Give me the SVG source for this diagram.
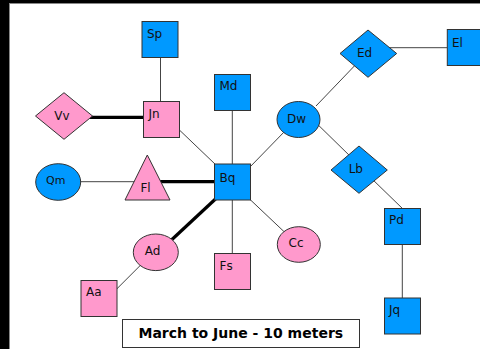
<svg xmlns="http://www.w3.org/2000/svg" width="480" height="349" viewBox="0 0 480 349">
<style>
.bl{fill:#0099ff;stroke:#333;stroke-width:1}
.pk{fill:#ff99cc;stroke:#333;stroke-width:1}
.ln{stroke:#444;stroke-width:1;fill:none}
.th{stroke:#000;stroke-width:3.2;fill:none}
text{font-family:"DejaVu Sans",Verdana,sans-serif;font-size:12px;fill:#111}
.c{text-anchor:middle}
.cap{font-weight:bold;font-size:14px;fill:#000}
</style>
<rect x="0" y="0" width="480" height="349" fill="#000"/>
<rect x="9.5" y="3.5" width="472" height="347" fill="#fff" stroke="#888"/>
<g id="connectors">
<line class="ln" x1="160.5" y1="57" x2="160.5" y2="101"/>
<line class="th" x1="90" y1="117.3" x2="143" y2="117.3"/>
<line class="ln" x1="80" y1="181.7" x2="138" y2="181.7"/>
<line class="th" x1="160" y1="181.7" x2="214" y2="181.7"/>
<line class="ln" x1="170" y1="121" x2="216" y2="165"/>
<line class="ln" x1="232.3" y1="110" x2="232.3" y2="164"/>
<line class="ln" x1="232.3" y1="200" x2="232.3" y2="253"/>
<line class="ln" x1="249" y1="168" x2="286" y2="130"/>
<line class="ln" x1="249" y1="198.5" x2="286" y2="233.5"/>
<line class="th" x1="216" y1="198.5" x2="165" y2="246"/>
<line class="ln" x1="112" y1="293.7" x2="145" y2="260.7"/>
<line class="ln" x1="316" y1="106" x2="362" y2="58"/>
<line class="ln" x1="316" y1="122.8" x2="352" y2="158"/>
<line class="ln" x1="388" y1="47.7" x2="447" y2="47.7"/>
<line class="ln" x1="370" y1="177" x2="404" y2="210"/>
<line class="ln" x1="402.3" y1="244" x2="402.3" y2="298"/>
</g>
<g id="Sp"><rect class="bl" x="142" y="21.5" width="36" height="36"/><text x="147" y="37.5">Sp</text></g>
<g id="Md"><rect class="bl" x="214.5" y="74.5" width="36" height="36"/><text x="219.5" y="89.5">Md</text></g>
<g id="Jn"><rect class="pk" x="143.5" y="101.5" width="36" height="36"/><text x="148.5" y="117.5">Jn</text></g>
<g id="Vv"><polygon class="pk" points="64,92.7 92.5,116 64,139.3 35.5,116"/><text class="c" x="62" y="120">Vv</text></g>
<g id="Qm"><ellipse class="bl" cx="58.2" cy="182" rx="22.5" ry="18.3"/><text class="c" x="55.7" y="183.5" style="font-size:11px">Qm</text></g>
<g id="Fl"><polygon class="pk" points="147.3,155 170,200 125,200"/><text class="c" x="145.5" y="191.7">Fl</text></g>
<g id="Bq"><rect class="bl" x="214.5" y="164" width="36" height="36"/><text x="219.5" y="181.7">Bq</text></g>
<g id="Dw"><ellipse class="bl" cx="298.5" cy="119.5" rx="21.5" ry="18"/><text class="c" x="296.5" y="122.5">Dw</text></g>
<g id="Ed"><polygon class="pk" style="fill:#0099ff" points="368,30 396.7,53.5 368,77.3 340,53.5"/><text class="c" x="364.5" y="56.7">Ed</text></g>
<g id="El"><rect class="bl" x="447.3" y="29.5" width="36" height="36"/><text x="452" y="46.7">El</text></g>
<g id="Lb"><polygon class="bl" points="359,146 387.3,170 359,193.3 331,170"/><text class="c" x="355.8" y="173.3">Lb</text></g>
<g id="Pd"><rect class="bl" x="384.5" y="208.5" width="36" height="36"/><text x="389" y="224.3">Pd</text></g>
<g id="Jq"><rect class="bl" x="384.5" y="298" width="36" height="36"/><text x="389" y="314">Jq</text></g>
<g id="Cc"><ellipse class="pk" cx="298.8" cy="244.5" rx="21.5" ry="17.8"/><text class="c" x="296" y="247.3">Cc</text></g>
<g id="Fs"><rect class="pk" x="214.5" y="253.5" width="36" height="36"/><text x="219.5" y="269.7">Fs</text></g>
<g id="Ad"><ellipse class="pk" cx="155.8" cy="252.3" rx="22.5" ry="18.3"/><text class="c" x="152.5" y="254.7">Ad</text></g>
<g id="Aa"><rect class="pk" x="81" y="280.5" width="36" height="36"/><text x="86" y="296">Aa</text></g>
<g id="caption"><rect x="122.5" y="319.5" width="237" height="28" fill="#fff" stroke="#333"/><text class="c cap" x="240.8" y="337.5">March to June - 10 meters</text></g>
</svg>
